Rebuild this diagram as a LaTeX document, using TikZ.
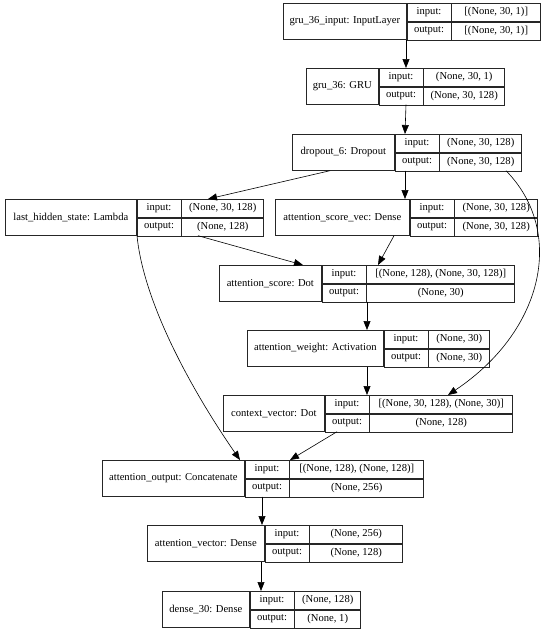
\documentclass[tikz,border=0pt]{standalone}
\usepackage{fontspec}
\setmainfont{Liberation Serif}
\usetikzlibrary{arrows.meta}

\tikzset{
  cell/.style={draw=black!85, line width=0.7pt, inner sep=0pt, minimum height=18pt,
    anchor=north west, font=\fontsize{10.6}{12}\selectfont},
  link/.style={-{Triangle[length=9pt,width=7pt]}, line width=0.6pt}
}

% one layer: name, left, top, label width, value width, label, input, output
\newcommand{\layerbox}[8]{%
  \node[cell, minimum width=#4pt, minimum height=36pt] (#1) at (#2,#3) {#6};
  \node[cell, minimum width=44pt] (#1-i) at (#1.north east) {input:};
  \node[cell, minimum width=44pt] (#1-o) at (#1-i.south west) {output:};
  \node[cell, minimum width=#5pt] (#1-iv) at (#1-i.north east) {#7};
  \node[cell, minimum width=#5pt] (#1-ov) at (#1-o.north east) {#8};
}

\begin{document}
\begin{tikzpicture}[x=1pt,y=-1pt]
    \useasboundingbox (0,0) rectangle (550,633);
    \layerbox{gruin}{283}{3}{123}{89}{gru\_36\_input: InputLayer}{[(None, 30, 1)]}{[(None, 30, 1)]}
    \layerbox{gru}{306}{68}{72}{81}{gru\_36: GRU}{(None, 30, 1)}{(None, 30, 128)}
    \layerbox{drop}{292}{134}{102}{82}{dropout\_6: Dropout}{(None, 30, 128)}{(None, 30, 128)}
    \layerbox{last}{5}{199}{131}{82}{last\_hidden\_state: Lambda}{(None, 30, 128)}{(None, 128)}
    \layerbox{scorevec}{275}{199}{134}{83}{attention\_score\_vec: Dense}{(None, 30, 128)}{(None, 30, 128)}
    \layerbox{score}{219}{265}{102}{148}{attention\_score: Dot}{[(None, 128), (None, 30, 128)]}{(None, 30)}
    \layerbox{weight}{247}{330}{136}{61}{attention\_weight: Activation}{(None, 30)}{(None, 30)}
    \layerbox{context}{223}{395}{101}{143}{context\_vector: Dot}{[(None, 30, 128), (None, 30)]}{(None, 128)}
    \layerbox{attout}{102}{460}{142}{134}{attention\_output: Concatenate}{[(None, 128), (None, 128)]}{(None, 256)}
    \layerbox{attvec}{147}{525}{117}{93}{attention\_vector: Dense}{(None, 256)}{(None, 128)}
    \layerbox{dense}{162}{591}{87}{66}{dense\_30: Dense}{(None, 128)}{(None, 1)}

    % connectors
    \draw[link] ([xshift=123pt]gruin.south west) -- ([xshift=100pt]gru.north west);
    \draw[link] ([xshift=100pt]gru.south west) -- ([xshift=113pt]drop.north west);
    \draw[link] ([xshift=38pt]drop.south west) -- ([xshift=203pt]last.north west);
    \draw[link] ([xshift=113pt]drop.south west) -- ([xshift=130pt]scorevec.north west);
    \draw[link] ([xshift=214pt]drop.south west) .. controls +(59,60) and +(97,-65) .. ([xshift=225pt]context.north west);
    \draw[link] ([xshift=193pt]last.south west) -- ([xshift=84pt]score.north west);
    \draw[link] ([xshift=132pt]last.south west) .. controls +(7,70) and +(-45,-65) .. ([xshift=138pt]attout.north west);
    \draw[link] ([xshift=119pt]scorevec.south west) -- ([xshift=159pt]score.north west);
    \draw[link] ([xshift=148pt]score.south west) -- ([xshift=120pt]weight.north west);
    \draw[link] ([xshift=120pt]weight.south west) -- ([xshift=144pt]context.north west);
    \draw[link] ([xshift=114pt]context.south west) -- ([xshift=188pt]attout.north west);
    \draw[link] ([xshift=160pt]attout.south west) -- ([xshift=115pt]attvec.north west);
    \draw[link] ([xshift=114pt]attvec.south west) -- ([xshift=99pt]dense.north west);
\end{tikzpicture}
\end{document}
